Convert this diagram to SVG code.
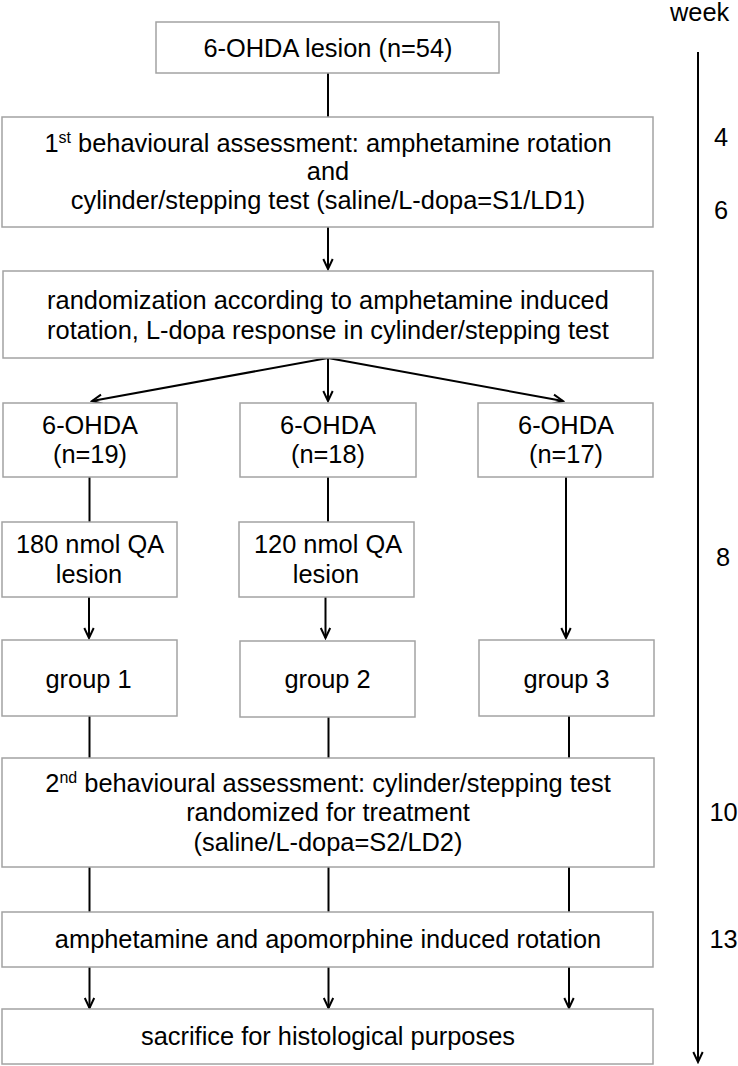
<svg xmlns="http://www.w3.org/2000/svg" width="738" height="1066" viewBox="0 0 738 1066">
<style>
.box{fill:#fff;stroke:#a3a3a3;stroke-width:1.5}
.t{font-family:"Liberation Sans",Arial,sans-serif;font-size:25.4px;fill:#000;text-anchor:middle}
.w{font-family:"Liberation Sans",Arial,sans-serif;font-size:25.4px;fill:#000}
.sup{font-size:16px}
.c{fill:none;stroke:#000;stroke-width:2}
</style>
<defs>
<marker id="arr" viewBox="-12 -7 14 14" refX="0" refY="0" markerWidth="14" markerHeight="14" markerUnits="userSpaceOnUse" orient="auto">
<path d="M-10,-4.7 L0,0 L-10,4.7" fill="none" stroke="#000" stroke-width="2"/>
</marker>
</defs>
<rect width="738" height="1066" fill="#fff"/>

<g id="connectors">
<line class="c" x1="328" y1="73" x2="328" y2="117"/>
<line class="c" x1="328" y1="227" x2="328" y2="269" marker-end="url(#arr)"/>
<line class="c" x1="328" y1="358" x2="92" y2="401" marker-end="url(#arr)"/>
<line class="c" x1="328" y1="358" x2="328" y2="401" marker-end="url(#arr)"/>
<line class="c" x1="328" y1="358" x2="563" y2="401" marker-end="url(#arr)"/>
<line class="c" x1="89.5" y1="477" x2="89.5" y2="522"/>
<line class="c" x1="328" y1="477" x2="328" y2="522"/>
<line class="c" x1="566" y1="477" x2="566" y2="638" marker-end="url(#arr)"/>
<line class="c" x1="89" y1="597" x2="89" y2="638" marker-end="url(#arr)"/>
<line class="c" x1="325.5" y1="597" x2="325.5" y2="638" marker-end="url(#arr)"/>
<line class="c" x1="89.5" y1="716" x2="89.5" y2="758"/>
<line class="c" x1="328.5" y1="717" x2="328.5" y2="758"/>
<line class="c" x1="569" y1="716" x2="569" y2="758"/>
<line class="c" x1="89.5" y1="867" x2="89.5" y2="912"/>
<line class="c" x1="328.5" y1="867" x2="328.5" y2="912"/>
<line class="c" x1="569" y1="867" x2="569" y2="912"/>
<line class="c" x1="89.5" y1="967" x2="89.5" y2="1008" marker-end="url(#arr)"/>
<line class="c" x1="328.5" y1="967" x2="328.5" y2="1008" marker-end="url(#arr)"/>
<line class="c" x1="569" y1="967" x2="569" y2="1008" marker-end="url(#arr)"/>
</g>

<g id="timeline">
<line class="c" x1="698" y1="52" x2="698" y2="1062" marker-end="url(#arr)"/>
<text class="w" x="670" y="21">week</text>
<text class="w" x="714" y="146">4</text>
<text class="w" x="714" y="219">6</text>
<text class="w" x="716" y="566">8</text>
<text class="w" x="709.5" y="821">10</text>
<text class="w" x="709.5" y="948">13</text>
</g>

<g id="n_lesion">
<rect class="box" x="156" y="22" width="343" height="51"/>
<text class="t" x="328" y="57">6-OHDA lesion (n=54)</text>
</g>

<g id="n_first">
<rect class="box" x="2" y="117" width="651" height="110"/>
<text class="t" x="328" y="152">1<tspan class="sup" dy="-9">st</tspan><tspan dy="9"> behavioural assessment: amphetamine rotation</tspan></text>
<text class="t" x="328" y="180">and</text>
<text class="t" x="328" y="209">cylinder/stepping test (saline/L-dopa=S1/LD1)</text>
</g>

<g id="n_random">
<rect class="box" x="3" y="271" width="650" height="87"/>
<text class="t" x="328" y="309">randomization according to amphetamine induced</text>
<text class="t" x="328" y="339">rotation, L-dopa response in cylinder/stepping test</text>
</g>

<g id="n_ohda1">
<rect class="box" x="3" y="403" width="174" height="74"/>
<text class="t" x="90" y="434">6-OHDA</text>
<text class="t" x="90" y="463">(n=19)</text>
</g>
<g id="n_ohda2">
<rect class="box" x="240" y="403" width="176" height="74"/>
<text class="t" x="328" y="434">6-OHDA</text>
<text class="t" x="328" y="463">(n=18)</text>
</g>
<g id="n_ohda3">
<rect class="box" x="478" y="403" width="175" height="74"/>
<text class="t" x="566" y="434">6-OHDA</text>
<text class="t" x="566" y="463">(n=17)</text>
</g>

<g id="n_qa180">
<rect class="box" x="2" y="522" width="175" height="75"/>
<text class="t" x="90" y="553">180 nmol QA</text>
<text class="t" x="89" y="583">lesion</text>
</g>
<g id="n_qa120">
<rect class="box" x="239" y="522" width="175" height="75"/>
<text class="t" x="328" y="553">120 nmol QA</text>
<text class="t" x="326" y="583">lesion</text>
</g>

<g id="n_group1">
<rect class="box" x="2" y="640" width="175" height="76"/>
<text class="t" x="88.5" y="688">group 1</text>
</g>
<g id="n_group2">
<rect class="box" x="240" y="641" width="175" height="76"/>
<text class="t" x="327.5" y="688">group 2</text>
</g>
<g id="n_group3">
<rect class="box" x="479" y="640" width="175" height="76"/>
<text class="t" x="566.5" y="688">group 3</text>
</g>

<g id="n_second">
<rect class="box" x="2" y="758" width="652" height="109"/>
<text class="t" x="328" y="792">2<tspan class="sup" dy="-9">nd</tspan><tspan dy="9"> behavioural assessment: cylinder/stepping test</tspan></text>
<text class="t" x="328" y="821">randomized for treatment</text>
<text class="t" x="328" y="851">(saline/L-dopa=S2/LD2)</text>
</g>

<g id="n_rotation">
<rect class="box" x="2" y="912" width="651" height="55"/>
<text class="t" x="328" y="948">amphetamine and apomorphine induced rotation</text>
</g>

<g id="n_sacrifice">
<rect class="box" x="2" y="1009" width="651" height="55"/>
<text class="t" x="328" y="1045">sacrifice for histological purposes</text>
</g>
</svg>
